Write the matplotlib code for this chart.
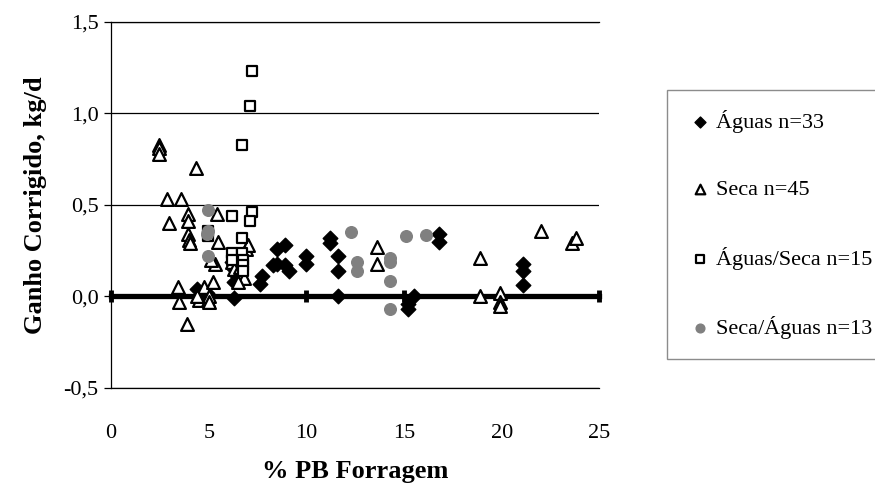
import matplotlib
matplotlib.use("Agg")
import matplotlib.pyplot as plt
from matplotlib.ticker import FuncFormatter

plt.rcParams['font.family'] = ['Liberation Serif', 'DejaVu Serif']

# Águas n=33
aguas_x = [4.4, 4.9, 6.3, 6.2, 6.3, 6.4, 6.3, 6.6, 7.7, 7.6, 8.3, 8.5, 8.5, 8.9, 8.9, 9.1,
           10.0, 10.0, 11.2, 11.2, 11.6, 11.6, 11.6, 15.2, 15.2, 15.5, 16.8, 16.8,
           21.1, 21.1, 21.1, 6.5, 4.7]
aguas_y = [0.04, 0.02, -0.01, 0.19, 0.15, 0.12, 0.08, 0.17, 0.11, 0.07, 0.17, 0.18, 0.26, 0.28, 0.17, 0.14,
           0.22, 0.18, 0.32, 0.29, 0.22, 0.14, 0.0, -0.07, -0.04, 0.0, 0.34, 0.30,
           0.18, 0.14, 0.06, 0.21, 0.0]

# Seca n=45
seca_x = [2.45, 2.45, 2.45, 2.85, 3.6, 2.95, 4.35, 3.95, 3.95, 3.95, 4.0, 4.05, 3.4, 3.5, 3.9,
          4.5, 4.75, 4.95, 5.0, 5.2, 5.4, 5.45, 5.3, 5.1, 6.2, 6.3, 6.7, 6.8, 6.9, 7.0,
          13.6, 13.6, 18.9, 18.9, 19.9, 19.9, 19.9, 22.0, 23.6, 23.8, 6.4, 6.6, 4.4, 5.0, 6.5]
seca_y = [0.83, 0.81, 0.78, 0.53, 0.53, 0.40, 0.70, 0.45, 0.41, 0.34, 0.31, 0.29, 0.05, -0.03, -0.15,
          -0.02, 0.05, -0.02, 0.0, 0.08, 0.45, 0.30, 0.18, 0.20, 0.19, 0.15, 0.12, 0.10, 0.26, 0.28,
          0.27, 0.18, 0.21, 0.0, 0.02, -0.03, -0.05, 0.36, 0.29, 0.32, 0.22, 0.16, 0.0, -0.03, 0.08]

# Águas/Seca n=15
aguas_seca_x = [7.2, 7.1, 6.7, 6.2, 7.2, 7.1, 4.95, 4.95, 6.7, 6.2, 6.7, 6.75, 6.75, 6.2, 6.75]
aguas_seca_y = [1.23, 1.04, 0.83, 0.44, 0.46, 0.41, 0.36, 0.33, 0.32, 0.24, 0.24, 0.20, 0.17, 0.20, 0.14]

# Seca/Águas n=13
seca_aguas_x = [4.95, 4.95, 4.95, 12.3, 12.6, 12.6, 14.3, 14.3, 14.3, 14.3, 15.1, 16.1, 4.9]
seca_aguas_y = [0.47, 0.36, 0.22, 0.35, 0.19, 0.14, 0.21, 0.19, 0.085, -0.07, 0.33, 0.335, 0.34]

# zero line
zero_x = [0, 10, 15, 25]
zero_y = [0, 0, 0, 0]

fig = plt.figure(figsize=(8.75, 4.86), dpi=100)
ax = fig.add_axes([0.127, 0.2016, 0.558, 0.7534])

ax.plot(zero_x, zero_y, color='black', lw=3.8, marker='|', ms=8, mew=3.5, zorder=2, clip_on=False)
ax.scatter(aguas_x, aguas_y, marker='D', s=55, color='black', zorder=3, label='Águas n=33')
ax.scatter(seca_x, seca_y, marker='^', s=85, facecolor='white', edgecolor='black', linewidths=1.6,
           zorder=3, label='Seca n=45')
ax.scatter(aguas_seca_x, aguas_seca_y, marker='s', s=60, facecolor='white', edgecolor='black',
           linewidths=1.6, zorder=3, label='Águas/Seca n=15')
ax.scatter(seca_aguas_x, seca_aguas_y, marker='o', s=70, color='#808080', zorder=3,
           label='Seca/Águas n=13')

ax.set_xlim(0, 25)
ax.set_ylim(-0.5, 1.5)
ax.set_xticks([0, 5, 10, 15, 20, 25])
ax.set_yticks([-0.5, 0.0, 0.5, 1.0, 1.5])
ax.yaxis.set_major_formatter(FuncFormatter(lambda v, p: f"{v:.1f}".replace('.', ',')))
ax.grid(axis='y', color='black', lw=0.9)
ax.set_axisbelow(True)
ax.spines['right'].set_visible(False)
for s in ['left', 'top', 'bottom']:
    ax.spines[s].set_linewidth(0.9)
ax.tick_params(axis='y', length=5, width=0.9, labelsize=16, pad=4)
ax.tick_params(axis='x', length=0, labelsize=16, pad=26)

ax.set_xlabel('% PB Forragem', fontsize=19, fontweight='bold', labelpad=12)
ax.set_ylabel('Ganho Corrigido, kg/d', fontsize=19, fontweight='bold', labelpad=12)

fig.legend(loc='center left', bbox_to_anchor=(667 / 875, 0.538, 0.4, 0.0),
           fontsize=16, frameon=True, fancybox=False, edgecolor='#707070',
           labelspacing=2.1, handletextpad=0.1, borderpad=0.9, handlelength=1.2,
           markerscale=0.75, borderaxespad=0)

fig.savefig('out.png', dpi=100)
